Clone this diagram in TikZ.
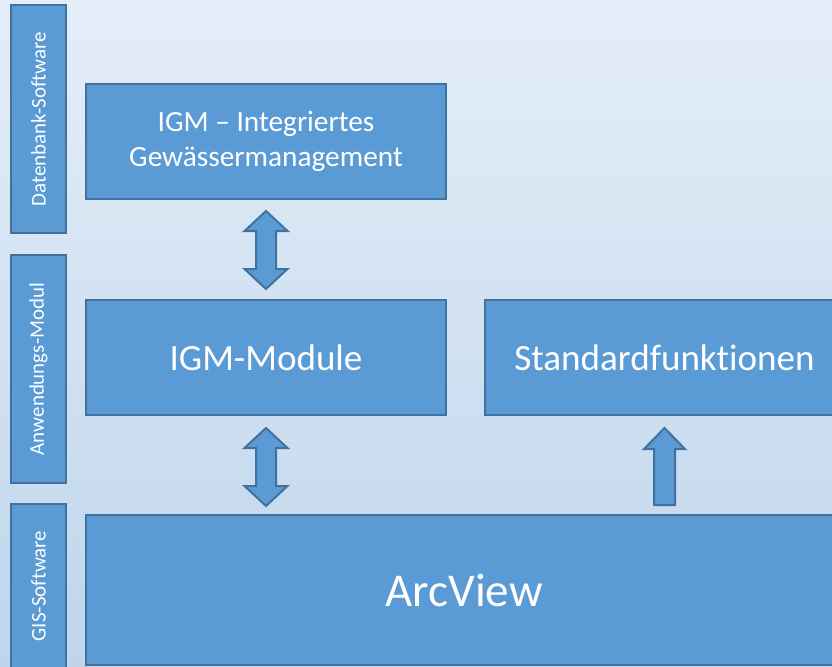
\documentclass[tikz,border=0pt]{standalone}
\usepackage{fontspec}
\setmainfont{Carlito}[Ligatures=NoCommon]
\usepackage{tikz}
\usetikzlibrary{calc, positioning}
\definecolor{boxfill}{HTML}{5B9BD5}
\definecolor{boxline}{HTML}{41719C}
\definecolor{bgtop}{HTML}{E4EEF8}
\definecolor{bgbottom}{HTML}{BFD5EC}
\tikzstyle{box}=[rectangle, draw=boxline, fill=boxfill, line width=1.5pt, text=white, align=center, inner sep=0pt]
\tikzstyle{layer}=[box, rotate=90, minimum height=41.25pt, font=\fontsize{15.7}{18}\selectfont]
\tikzstyle{blockarrow}=[draw=boxline, fill=boxfill, line width=1.5pt, line join=miter]

\begin{document}
\begin{tikzpicture}[x=0.75pt, y=-0.75pt]
  \useasboundingbox (0,0) rectangle (832,667);
  \shade[top color=bgtop, bottom color=bgbottom] (0,0) rectangle (832,667);
  % layer labels on the left
  \node[layer, minimum width=171pt] (db) at (38.5,119) {Datenbank-Software};
  \node[layer, minimum width=171pt] (app) at (38.5,369) {Anwendungs-Modul};
  \node[layer, minimum width=123pt] (gis) at (38.5,586) {GIS-Software};
  % boxes
  \node[box, minimum width=270pt, minimum height=86.25pt, font=\fontsize{22}{26.4}\selectfont] (igm) at (266,141.5) {IGM -- Integriertes\\Gewässermanagement};
	\node[box, minimum width=270pt, minimum height=86.25pt, font=\fontsize{27.8}{32}\selectfont] (mod) [below=74.25pt of igm] {IGM-Module};
	\node[box, minimum width=269.25pt, minimum height=86.25pt, font=\fontsize{27.8}{32}\selectfont] (std) [right=27.75pt of mod] {Standardfunktionen};
  \node[box, minimum width=567pt, minimum height=112.5pt, font=\fontsize{35.3}{40}\selectfont] (arc) [below=73.5pt of mod.south west, anchor=north west] {ArcView};
  % block arrows
  \draw[blockarrow] ($(igm.south)+(0,11)$) -- ++(21.5,20) -- ++(-11.5,0) -- ++(0,38) -- ++(11.5,0) -- ++(-21.5,20)
      -- ++(-21.5,-20) -- ++(11.5,0) -- ++(0,-38) -- ++(-11.5,0) -- cycle;
  \draw[blockarrow] ($(mod.south)+(0,12)$) -- ++(21.5,20) -- ++(-11.5,0) -- ++(0,38) -- ++(11.5,0) -- ++(-21.5,20)
      -- ++(-21.5,-20) -- ++(11.5,0) -- ++(0,-38) -- ++(-11.5,0) -- cycle;
  \draw[blockarrow] ($(std.south)+(0,12)$) -- ++(20.5,21) -- ++(-10,0) -- ++(0,56) -- ++(-21,0) -- ++(0,-56) -- ++(-10,0) -- cycle;
\end{tikzpicture}
\end{document}
